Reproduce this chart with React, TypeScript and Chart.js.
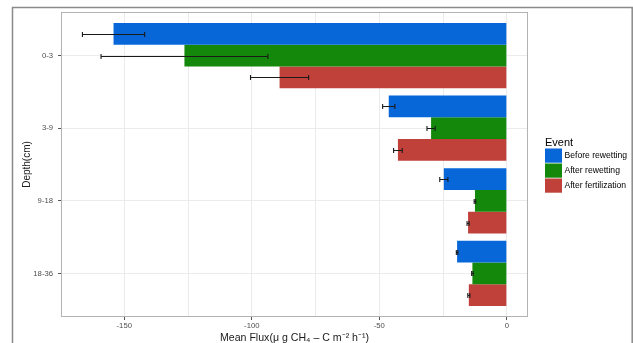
import React, { useEffect, useRef } from 'react';
import { Chart, registerables } from 'chart.js';

Chart.register(...registerables);

const categories = ['0-3', '3-9', '9-18', '18-36'];
const seriesNames = ['Before rewetting', 'After rewetting', 'After fertilization'];
const beforeRewetting = [-154.2, -46.3, -24.7, -19.5];
const beforeRewettingSE = [12.2, 2.4, 1.6, 0.3];
const afterRewetting = [-126.4, -29.7, -12.5, -13.5];
const afterRewettingSE = [32.7, 1.6, 0.3, 0.3];
const afterFertilization = [-89.1, -42.7, -15.2, -14.9];
const afterFertilizationSE = [11.4, 1.7, 0.4, 0.4];
const xTicks = [-150, -125, -100, -75, -50, -25, 0];
const xLabelTicks = [-150, -100, -50, 0];
const seriesColors = ['#0767d9', '#13880a', '#c0403a'];

const FONT = "'Liberation Sans', Arial, Helvetica, sans-serif";

const seriesValues = [beforeRewetting, afterRewetting, afterFertilization];
const seriesErrors = [beforeRewettingSE, afterRewettingSE, afterFertilizationSE];

const framePlugin = {
  id: 'outerFrame',
  beforeDraw(chart: any) {
    const { ctx, width, height } = chart;
    ctx.save();
    ctx.fillStyle = '#ffffff';
    ctx.fillRect(0, 0, width, height);
    ctx.strokeStyle = '#8a8a8a';
    ctx.lineWidth = 1.5;
    ctx.beginPath();
    ctx.moveTo(12.5, height + 2);
    ctx.lineTo(12.5, 7.5);
    ctx.lineTo(632.2, 7.5);
    ctx.lineTo(632.2, height + 2);
    ctx.stroke();
    ctx.restore();
  },
};

const errorBarPlugin = {
  id: 'errorBars',
  afterDatasetsDraw(chart: any) {
    const { ctx, chartArea, scales } = chart;
    const xs = scales.x;
    ctx.save();
    ctx.strokeStyle = '#b3b3b3';
    ctx.lineWidth = 1;
    ctx.strokeRect(chartArea.left + 0.5, chartArea.top + 0.5, chartArea.right - chartArea.left - 1, chartArea.bottom - chartArea.top - 1);
    ctx.strokeStyle = '#1a1a1a';
    ctx.lineWidth = 1.1;
    chart.data.datasets.forEach((ds: any, d: number) => {
      const meta = chart.getDatasetMeta(d);
      meta.data.forEach((bar: any, i: number) => {
        const v = ds.data[i].x;
        const e = ds.errors[i];
        const x1 = xs.getPixelForValue(v - e);
        const x2 = xs.getPixelForValue(v + e);
        const y = Math.round(bar.y) + 0.5;
        ctx.beginPath();
        ctx.moveTo(x1, y);
        ctx.lineTo(x2, y);
        ctx.moveTo(x1, y - 2.5);
        ctx.lineTo(x1, y + 2.5);
        ctx.moveTo(x2, y - 2.5);
        ctx.lineTo(x2, y + 2.5);
        ctx.stroke();
      });
    });
    ctx.restore();
  },
};

const legendPlugin = {
  id: 'sideLegend',
  afterDraw(chart: any) {
    const { ctx } = chart;
    ctx.save();
    ctx.fillStyle = '#000000';
    ctx.textBaseline = 'middle';
    ctx.textAlign = 'left';
    ctx.font = `11px ${FONT}`;
    ctx.fillText('Event', 545, 142.5);
    ctx.font = `8.6px ${FONT}`;
    chart.data.datasets.forEach((ds: any, i: number) => {
      const top = 148.5 + i * 15;
      ctx.fillStyle = ds.backgroundColor;
      ctx.fillRect(545, top, 17, 14.2);
      ctx.fillStyle = '#000000';
      ctx.fillText(ds.label, 564.5, top + 7.5);
    });
    ctx.restore();
  },
};

export default function App() {
  const ref = useRef<HTMLCanvasElement>(null);
  useEffect(() => {
    Chart.defaults.font.family = FONT;
    const datasets = seriesNames.map((name, d) => ({
      label: name,
      data: seriesValues[d].map((v, i) => ({ x: v, y: i })),
      errors: seriesErrors[d],
      backgroundColor: seriesColors[d],
      borderWidth: 0,
      categoryPercentage: 0.9,
      barPercentage: 1.0,
    }));
    const chart = new Chart(ref.current as HTMLCanvasElement, {
      type: 'bar',
      data: { datasets } as any,
      plugins: [framePlugin, errorBarPlugin, legendPlugin],
      options: {
        indexAxis: 'y',
        animation: false,
        responsive: false,
        maintainAspectRatio: false,
        layout: { padding: { left: 12, top: 12, right: 105, bottom: 0 } },
        plugins: {
          legend: { display: false },
          tooltip: { enabled: false },
          title: { display: false },
        },
        scales: {
          x: {
            type: 'linear',
            min: -174.8,
            max: 8.3,
            offset: false,
            afterBuildTicks: (axis: any) => {
              axis.ticks = xTicks.map((v) => ({ value: v }));
            },
            afterFit: (axis: any) => {
              axis.height = 26;
            },
            ticks: {
              autoSkip: false,
              maxRotation: 0,
              padding: 1,
              color: '#4d4d4d',
              font: { size: 7.7, family: FONT },
              callback: (v: any) => (xLabelTicks.includes(Number(v)) ? String(v) : ''),
            },
            grid: {
              offset: false,
              color: '#ebebeb',
              lineWidth: 1,
              tickLength: 3,
              tickColor: (c: any) => (c.tick && xLabelTicks.includes(c.tick.value) ? '#555555' : 'rgba(0,0,0,0)'),
            },
            border: { display: false },
            title: {
              display: true,
              text: 'Mean Flux(μ g CH₄ – C m⁻² h⁻¹)',
              color: '#1a1a1a',
              font: { size: 10.6, family: FONT, lineHeight: 1 },
              padding: { top: 0, bottom: -0.5 },
            },
          },
          y: {
            type: 'linear',
            reverse: true,
            min: -0.6,
            max: 3.6,
            offset: false,
            afterBuildTicks: (axis: any) => {
              axis.ticks = categories.map((_, i) => ({ value: i }));
            },
            afterFit: (axis: any) => {
              axis.width = 49;
            },
            ticks: {
              autoSkip: false,
              padding: 5,
              color: '#4d4d4d',
              font: { size: 7.7, family: FONT },
              callback: (v: any) => categories[Number(v)] ?? '',
            },
            grid: {
              offset: false,
              color: '#ebebeb',
              lineWidth: 1,
              tickLength: 3,
              tickColor: '#555555',
            },
            border: { display: false },
            title: {
              display: true,
              text: 'Depth(cm)',
              color: '#1a1a1a',
              font: { size: 10, family: FONT },
              padding: { top: 9, bottom: 0 },
            },
          },
        },
      } as any,
    });
    return () => chart.destroy();
  }, []);
  return (
    <div style={{ position: 'fixed', left: 0, top: 0, width: 633, height: 343, background: '#ffffff' }}>
      <canvas ref={ref} width={633} height={343} style={{ display: 'block', width: 633, height: 343 }} />
    </div>
  );
}
